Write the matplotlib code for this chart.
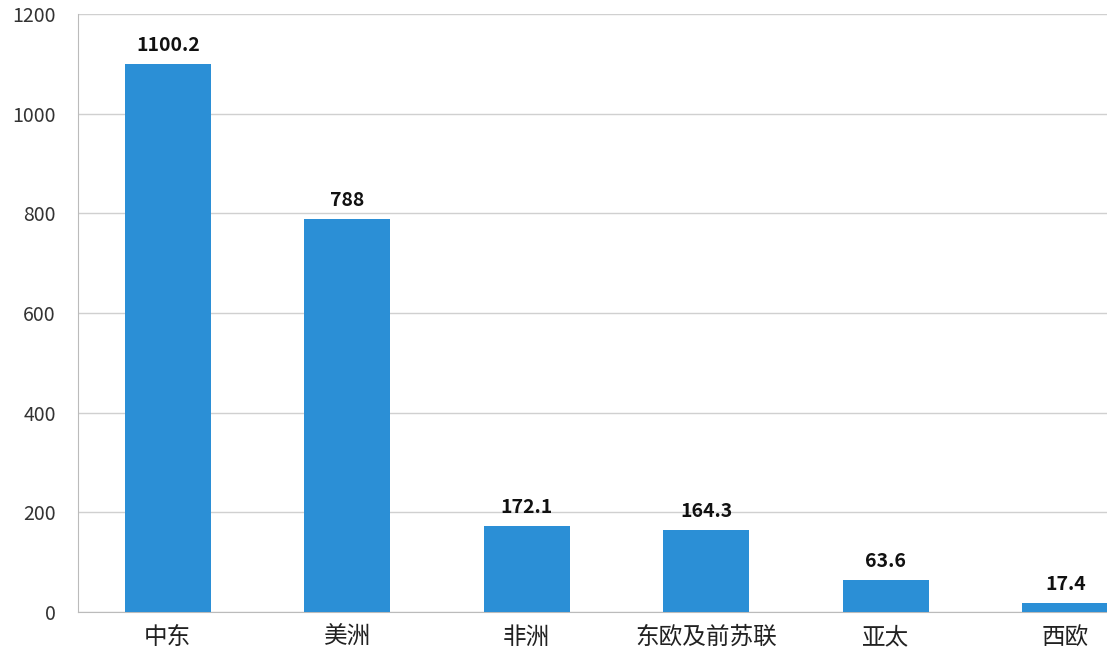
import matplotlib
matplotlib.use("Agg")
import matplotlib.pyplot as plt

plt.rcParams['font.family'] = ['Noto Sans CJK SC', 'DejaVu Sans']

categories = ["中东", "美洲", "非洲", "东欧及前苏联", "亚太", "西欧"]
values = [1100.2, 788, 172.1, 164.3, 63.6, 17.4]
labels = ["1100.2", "788", "172.1", "164.3", "63.6", "17.4"]

fig = plt.figure(figsize=(11.07, 6.66), dpi=100)
ax = fig.add_axes([78/1107, 54/666, 1077/1107, 598/666])
x = range(len(categories))
bars = ax.bar(x, values, width=0.48, color="#2b8fd6", zorder=3)
for xi, v, l in zip(x, values, labels):
    ax.text(xi, v + 18, l, ha="center", va="bottom", fontsize=14, color="#111111", fontweight="bold")
ax.set_xlim(-0.5, len(categories) - 0.5)
ax.set_ylim(0, 1200)
ax.set_yticks(range(0, 1201, 200))
ax.tick_params(axis='y', labelsize=14, length=0, pad=16, labelcolor="#333333")
ax.set_xticks(list(x))
ax.set_xticklabels(categories, fontsize=17, color="#222222")
ax.tick_params(axis='x', length=0, pad=10)
ax.grid(axis='y', color="#d0d0d0", linewidth=1, zorder=0)
for s in ["top", "right"]:
    ax.spines[s].set_visible(False)
ax.spines["left"].set_color("#bbbbbb")
ax.spines["bottom"].set_color("#bbbbbb")
fig.savefig("out.png", dpi=100)
